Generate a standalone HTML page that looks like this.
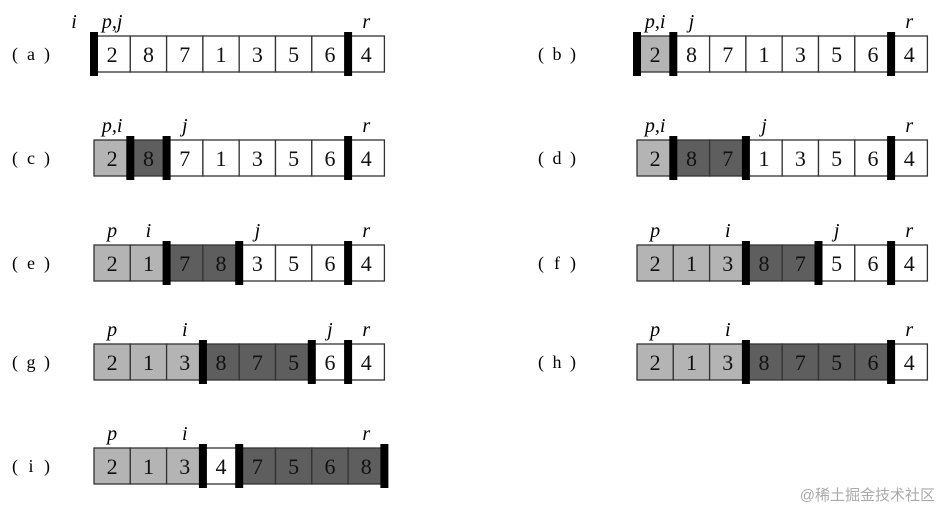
<!DOCTYPE html><html><head><meta charset="utf-8"><style>body{margin:0;background:#fff}svg{display:block}</style></head><body>
<svg id="s" width="941" height="511" xmlns="http://www.w3.org/2000/svg" font-family="'Liberation Serif', serif"></svg>
<script>
const W=36.3,H=36;
const rows=[
["a",12,94,36,"28713564",[],[],[0,7],[["i",-0.55],["p,j",0.5],["r",7.5]]],
["b",538,637,36,"28713564",[0],[],[0,1,7],[["p,i",0.5],["j",1.5],["r",7.5]]],
["c",12,94,140,"28713564",[0],[1],[1,2,7],[["p,i",0.5],["j",2.5],["r",7.5]]],
["d",538,637,140,"28713564",[0],[1,2],[1,3,7],[["p,i",0.5],["j",3.5],["r",7.5]]],
["e",12,94,245,"21783564",[0,1],[2,3],[2,4,7],[["p",0.5],["i",1.5],["j",4.5],["r",7.5]]],
["f",538,637,245,"21387564",[0,1,2],[3,4],[3,5,7],[["p",0.5],["i",2.5],["j",5.5],["r",7.5]]],
["g",12,94,344,"21387564",[0,1,2],[3,4,5],[3,6,7],[["p",0.5],["i",2.5],["j",6.5],["r",7.5]]],
["h",538,637,344,"21387564",[0,1,2],[3,4,5,6],[3,7],[["p",0.5],["i",2.5],["r",7.5]]],
["i",12,94,448,"21347568",[0,1,2],[4,5,6,7],[3,4,8],[["p",0.5],["i",2.5],["r",7.5]]]];
let h="";
for(const [lab,lx,x0,y,v,lt,dk,bars,lbl] of rows){
 h+=`<text x="${lx}" y="${y+24}" font-size="18">(</text><text x="${lx+19}" y="${y+24}" font-size="18" text-anchor="middle">${lab}</text><text x="${lx+32}" y="${y+24}" font-size="18">)</text>`;
 for(let k=0;k<8;k++){const f=lt.includes(k)?"#b4b4b4":dk.includes(k)?"#5e5e5e":"#fff";
  h+=`<rect x="${x0+k*W}" y="${y}" width="${W}" height="${H}" fill="${f}" stroke="#333" stroke-width="1.3"/>`;
  h+=`<text x="${x0+k*W+W/2}" y="${y+26}" font-size="22" text-anchor="middle" fill="#111">${v[k]}</text>`;}
 for(const b of bars)h+=`<rect x="${x0+b*W-4}" y="${y-4}" width="8" height="${H+8}" fill="#000"/>`;
 for(const [t,p] of lbl)h+=`<text x="${x0+p*W}" y="${y-8}" font-size="20" font-style="italic" text-anchor="middle">${t}</text>`;
}
h+=`<text x="935" y="500" font-size="15" fill="#aaa" text-anchor="end" font-family="'Liberation Sans', 'Noto Sans CJK SC', sans-serif">@稀土掘金技术社区</text>`;
document.getElementById("s").innerHTML=h;
</script></body></html>
